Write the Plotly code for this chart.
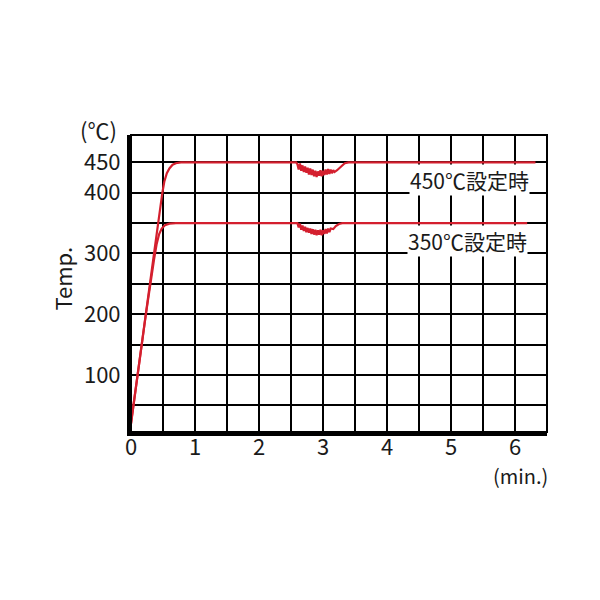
import plotly.graph_objects as go

# time (min.) and temperature (°C)
t_450 = [0, 0.1, 0.23, 0.36, 0.49, 0.52, 0.56, 0.60, 0.65, 0.70, 0.78,
         2.58, 2.60, 2.62, 2.64, 2.66, 2.68, 2.70, 2.72, 2.74, 2.76, 2.78,
         2.80, 2.82, 2.84, 2.86, 2.88, 2.90, 2.92, 2.94, 2.96, 2.98, 3.00,
         3.02, 3.04, 3.06, 3.08, 3.10, 3.12, 3.14, 3.16, 3.18, 3.22, 3.26,
         3.30, 3.34, 3.40, 6.32]
temp_450 = [20, 100, 200, 300, 400, 418, 432, 440, 446, 448.5, 450,
            450, 447, 438, 448, 436, 445, 434, 443, 433, 441, 430,
            440, 429, 438, 427, 436, 426, 435, 428, 437, 427, 436,
            429, 438, 430, 439, 431, 438, 432, 437, 434, 437, 441,
            445, 448.5, 450, 450]

t_350 = [0, 0.1, 0.23, 0.36, 0.40, 0.44, 0.48, 0.53, 0.60, 0.70,
         2.60, 2.62, 2.64, 2.66, 2.68, 2.70, 2.72, 2.74, 2.76, 2.78,
         2.80, 2.82, 2.84, 2.86, 2.88, 2.90, 2.92, 2.94, 2.96, 2.98,
         3.00, 3.02, 3.04, 3.06, 3.08, 3.10, 3.12, 3.16, 3.20, 3.25,
         3.30, 6.19]
temp_350 = [20, 100, 198, 290, 315, 332, 341, 346.5, 349, 350,
            350, 343, 349, 339, 346, 337, 344, 335, 342, 334,
            341, 332, 340, 331, 339, 330, 338, 331, 339, 330,
            338, 332, 340, 333, 341, 335, 341, 340, 345, 348.5,
            350, 350]

x_ticks = [0, 0.5, 1, 1.5, 2, 2.5, 3, 3.5, 4, 4.5, 5, 5.5, 6]
x_labels = ["0", "", "1", "", "2", "", "3", "", "4", "", "5", "", "6"]
y_ticks = [50, 100, 150, 200, 250, 300, 350, 400, 450]
y_labels = ["", "100", "", "200", "", "300", "", "400", "450"]

red = "#d41f2e"
txt = "#1a1a1a"
font = "Noto Sans CJK JP"

fig = go.Figure()
fig.add_trace(go.Scatter(x=t_450, y=temp_450, mode="lines",
                         line=dict(color=red, width=2.2)))
fig.add_trace(go.Scatter(x=t_350, y=temp_350, mode="lines",
                         line=dict(color=red, width=2.2)))

fig.update_xaxes(range=[0, 6.5], tickvals=x_ticks, ticktext=x_labels,
                 showgrid=True, gridcolor="black", gridwidth=1.7,
                 showline=True, linecolor="black", linewidth=4,
                 zeroline=False, ticks="", ticklabelstandoff=-7,
                 tickfont=dict(family=font, size=22, color=txt))
fig.update_yaxes(range=[6, 495], tickvals=y_ticks, ticktext=y_labels,
                 showgrid=True, gridcolor="black", gridwidth=1.7,
                 showline=True, linecolor="black", linewidth=4,
                 zeroline=False, ticks="", ticklabelstandoff=2,
                 tickfont=dict(family=font, size=22, color=txt))

# thin frame on top and right
fig.add_shape(type="rect", xref="x domain", yref="y domain",
              x0=0, x1=1, y0=0, y1=1, line=dict(color="black", width=2))

fig.add_annotation(x=5.29, y=421, xref="x", yref="y", text="450℃設定時",
                   showarrow=False, bgcolor="white", borderpad=0,
                   font=dict(family=font, size=21, color=txt))
fig.add_annotation(x=5.26, y=321, xref="x", yref="y", text="350℃設定時",
                   showarrow=False, bgcolor="white", borderpad=0,
                   font=dict(family=font, size=21, color=txt))
fig.add_annotation(x=-0.079, y=1.02, xref="paper", yref="paper", text="(℃)",
                   xanchor="center", yanchor="middle", showarrow=False,
                   font=dict(family=font, size=22, color=txt))
fig.add_annotation(x=0.936, y=-0.145, xref="paper", yref="paper", text="(min.)",
                   xanchor="center", yanchor="middle", showarrow=False,
                   font=dict(family=font, size=20, color=txt))
fig.add_annotation(x=-0.165, y=0.518, xref="paper", yref="paper", text="Temp.",
                   xanchor="center", yanchor="middle", textangle=-90,
                   showarrow=False, font=dict(family=font, size=22, color=txt))

# page body adds 8px offset, so margins are shifted back by 8
fig.update_layout(width=600, height=600, showlegend=False,
                  plot_bgcolor="white", paper_bgcolor="white",
                  margin=dict(l=123, r=61, t=127, b=176))

fig.write_html("out.html")
